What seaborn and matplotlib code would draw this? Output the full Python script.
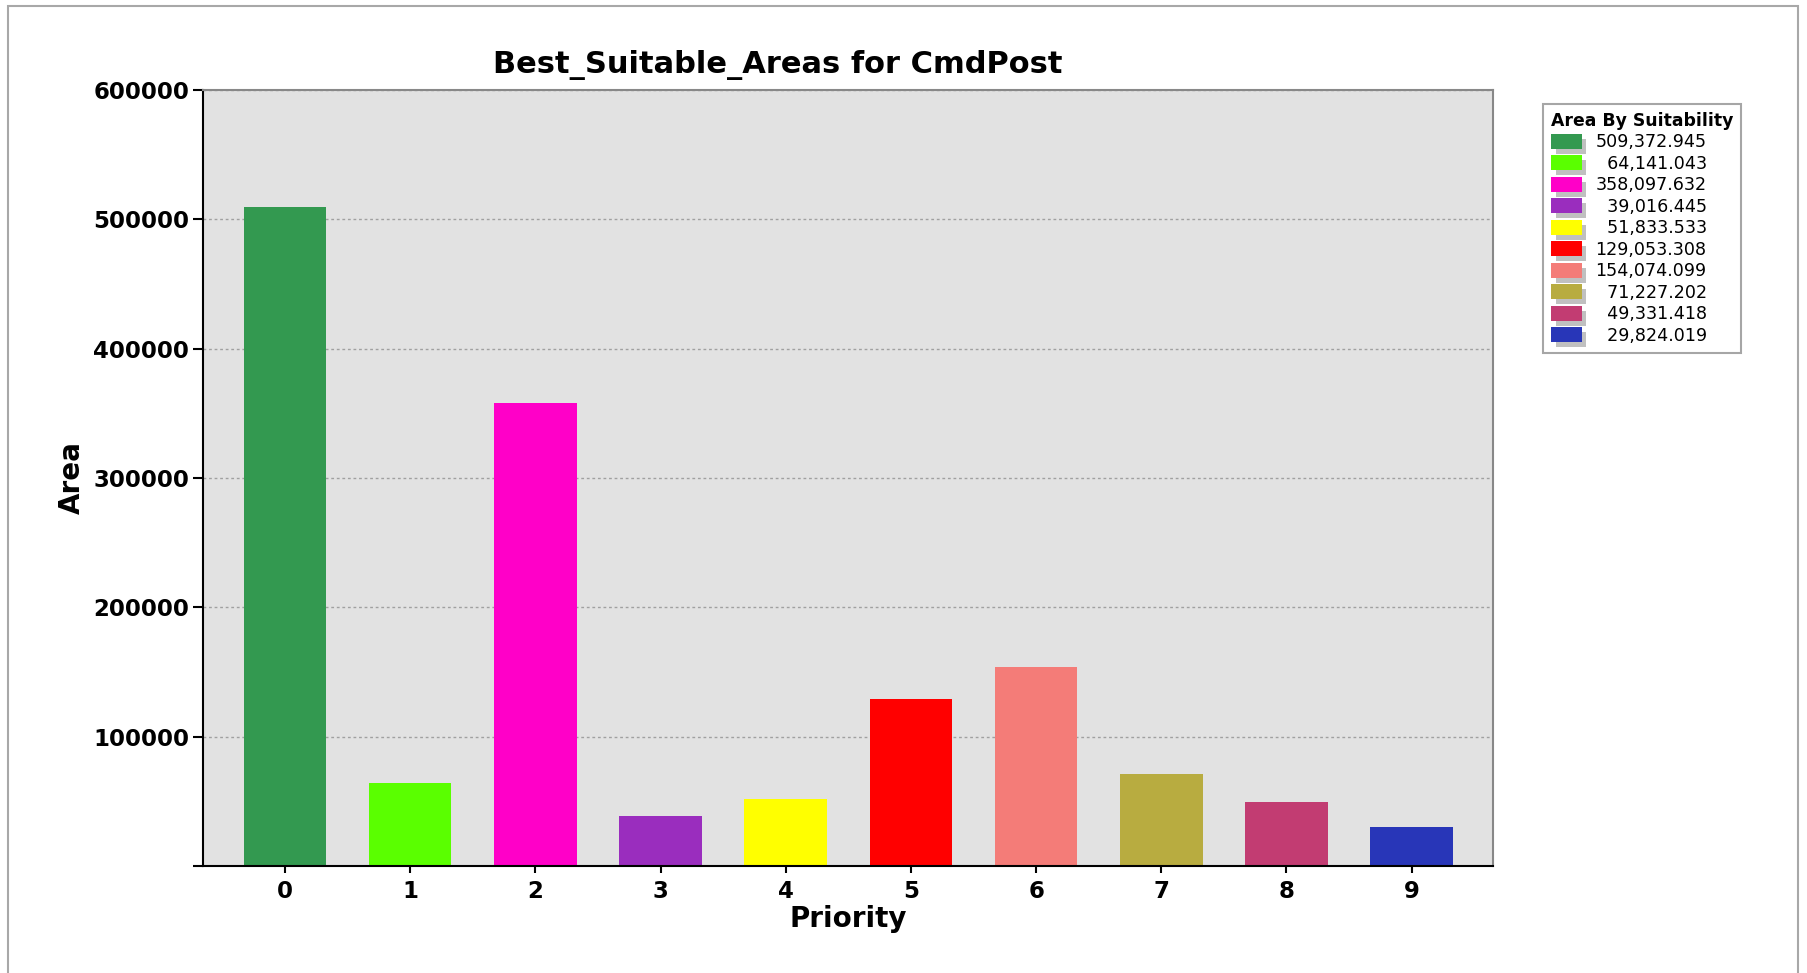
import matplotlib
matplotlib.use('Agg')
import matplotlib.pyplot as plt
import seaborn as sns
from matplotlib.patches import Rectangle
from matplotlib.legend_handler import HandlerBase
from matplotlib.ticker import FuncFormatter

priority = ['0', '1', '2', '3', '4', '5', '6', '7', '8', '9']
area = [509372.945, 64141.043, 358097.632, 39016.445, 51833.533,
        129053.308, 154074.099, 71227.202, 49331.418, 29824.019]
colors = ['#339950', '#5aff00', '#ff00c8', '#9a2dbe', '#ffff00',
          '#ff0000', '#f47c78', '#b8ac40', '#c23c72', '#2836b8']
yticks = [0, 100000, 200000, 300000, 400000, 500000, 600000]

sns.set_style('white')
plt.rcParams['font.family'] = ['DejaVu Sans']
plt.rcParams['text.color'] = 'black'
plt.rcParams['axes.labelcolor'] = 'black'
plt.rcParams['xtick.color'] = 'black'
plt.rcParams['ytick.color'] = 'black'


class ShadowHandler(HandlerBase):
    # legend swatch with a grey drop shadow
    def create_artists(self, legend, orig_handle, xdescent, ydescent,
                       width, height, fontsize, trans):
        off = 3.5
        sh = Rectangle((-xdescent + off, -ydescent - off), width, height,
                       fc='#c0c0c0', ec='none', transform=trans)
        p = Rectangle((-xdescent, -ydescent), width, height,
                      fc=orig_handle.get_facecolor(), ec='none', transform=trans)
        return [sh, p]


fig = plt.figure(figsize=(18.07, 9.73), dpi=100)
fig.patches.append(Rectangle((8 / 1807, -0.1), 1790 / 1807, 1.1 - 6 / 973,
                             transform=fig.transFigure, fill=False,
                             ec='#a8a8a8', lw=1.5))
ax = fig.add_axes([203 / 1807, 1 - 866 / 973, 1290 / 1807, 776 / 973])
ax.set_facecolor('#e2e2e2')

sns.barplot(x=priority, y=area, hue=priority, palette=colors, width=0.66,
            saturation=1, legend=False, linewidth=0, ax=ax)

ax.set_xlim(-0.655, 9.65)
ax.set_ylim(0, 600000)
ax.set_yticks(yticks)
ax.yaxis.set_major_formatter(FuncFormatter(lambda v, p: '' if v == 0 else '%d' % v))
ax.grid(axis='y', color='#a0a0a0', linestyle=(0, (2, 2)), lw=1)
ax.set_axisbelow(True)

for s in ['left', 'bottom']:
    ax.spines[s].set_color('black')
    ax.spines[s].set_linewidth(1.5)
for s in ['top', 'right']:
    ax.spines[s].set_color('#888888')
    ax.spines[s].set_linewidth(1.5)

ax.tick_params(axis='y', length=7, width=1.5, pad=3, labelsize=16.5, left=True)
ax.tick_params(axis='x', length=5, width=1.5, pad=5, labelsize=16.5, bottom=True)
for t in ax.get_xticklabels() + ax.get_yticklabels():
    t.set_fontweight('bold')

ax.set_xlabel('Priority', fontsize=20, fontweight='bold')
ax.set_ylabel('Area', fontsize=20, fontweight='bold')
ax.xaxis.set_label_coords(0.5, -0.05)
ax.yaxis.set_label_coords(-0.091, 0.5)

fig.text(778 / 1807, 1 - 65 / 973, 'Best_Suitable_Areas for CmdPost',
         ha='center', va='center', fontsize=22, fontweight='bold')

# legend, labels right aligned with figure spaces
width = max(len('{:,.3f}'.format(v)) for v in area)
labels = ['\u2007' * (width - len('{:,.3f}'.format(v))) + '{:,.3f}'.format(v)
          for v in area]
handles = [Rectangle((0, 0), 1, 1, fc=c) for c in colors]
leg = fig.legend(handles, labels, loc='upper left',
                 bbox_to_anchor=(1543 / 1807, 1 - 104 / 973),
                 title='Area By Suitability', fontsize=12.6,
                 title_fontproperties={'weight': 'bold', 'size': 12.4},
                 handler_map={Rectangle: ShadowHandler()},
                 handlelength=1.75, handleheight=0.95, handletextpad=0.8,
                 labelspacing=0.2, borderpad=0.45, borderaxespad=0,
                 alignment='left',
                 frameon=True, fancybox=False, edgecolor='#909090')
leg.get_frame().set_linewidth(1.5)

fig.savefig('out.png', dpi=100)
